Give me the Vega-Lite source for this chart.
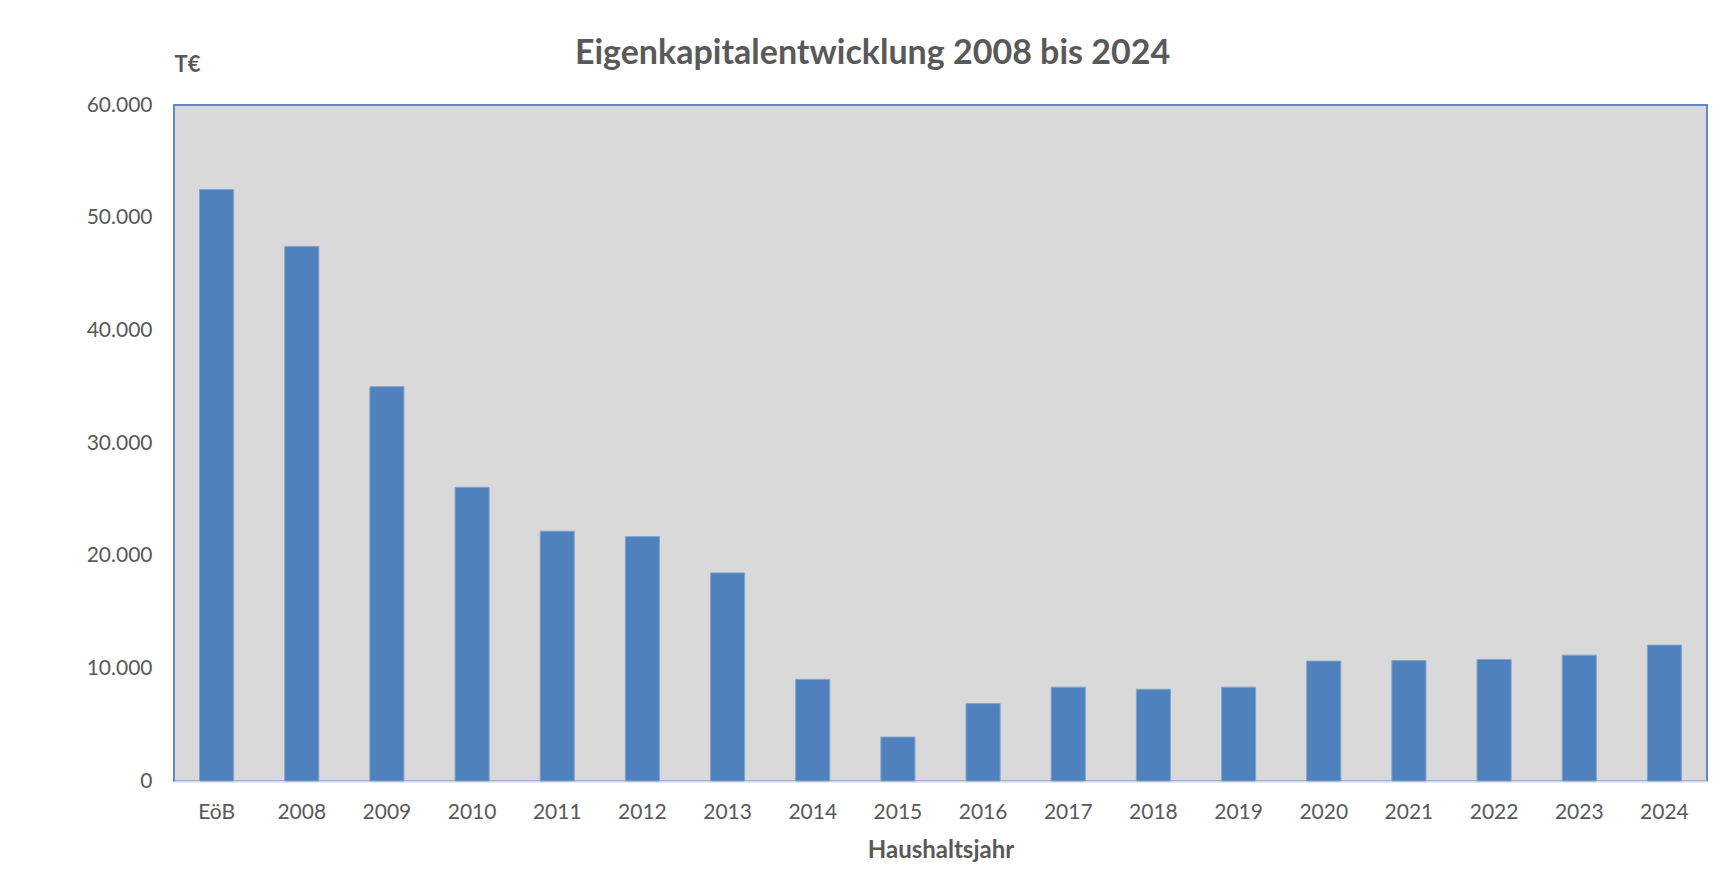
{
  "$schema": "https://vega.github.io/schema/vega-lite/v6.json",
  "autosize": {"type": "none"},
  "width": 1533,
  "height": 676,
  "padding": {"left": 174, "top": 105, "right": 12, "bottom": 112},
  "background": "white",
  "title": {
    "text": "Eigenkapitalentwicklung 2008 bis 2024",
    "anchor": "middle",
    "dx": -68,
    "offset": -52,
    "baseline": "bottom",
    "font": "Lato",
    "fontSize": 34,
    "fontWeight": "bold",
    "color": "#595959"
  },
  "data": {
    "values": [
      {"jahr": "EöB", "wert": 52500},
      {"jahr": "2008", "wert": 47450},
      {"jahr": "2009", "wert": 35000},
      {"jahr": "2010", "wert": 26070},
      {"jahr": "2011", "wert": 22170},
      {"jahr": "2012", "wert": 21690},
      {"jahr": "2013", "wert": 18470},
      {"jahr": "2014", "wert": 9020},
      {"jahr": "2015", "wert": 3900},
      {"jahr": "2016", "wert": 6870},
      {"jahr": "2017", "wert": 8330},
      {"jahr": "2018", "wert": 8140},
      {"jahr": "2019", "wert": 8330},
      {"jahr": "2020", "wert": 10640},
      {"jahr": "2021", "wert": 10690},
      {"jahr": "2022", "wert": 10780},
      {"jahr": "2023", "wert": 11170},
      {"jahr": "2024", "wert": 12060}
    ]
  },
  "mark": {"type": "bar", "color": "#4F81BD", "stroke": "#7FA3D1", "strokeWidth": 1},
  "encoding": {
    "x": {
      "field": "jahr",
      "type": "nominal",
      "sort": null,
      "scale": {"paddingInner": 0.6, "paddingOuter": 0.3},
      "axis": {
        "title": "Haushaltsjahr",
        "labelAngle": 0,
        "labelFont": "Lato",
        "labelFontSize": 21,
        "labelColor": "#595959",
        "labelPadding": 20,
        "ticks": false,
        "domain": true,
        "domainColor": "#D9D9D9",
        "domainWidth": 2,
        "titleFont": "Lato",
        "titleFontSize": 24,
        "titleFontWeight": "bold",
        "titleColor": "#595959",
        "titlePadding": 16
      }
    },
    "y": {
      "field": "wert",
      "type": "quantitative",
      "scale": {"domain": [0, 60000], "nice": false},
      "axis": {
        "title": "T€",
        "titleAngle": 0,
        "titleX": 0,
        "titleY": -34,
        "titleAlign": "left",
        "titleBaseline": "alphabetic",
        "titleFont": "Lato",
        "titleFontSize": 22,
        "titleFontWeight": "bold",
        "titleColor": "#595959",
        "values": [0, 10000, 20000, 30000, 40000, 50000, 60000],
        "labelExpr": "replace(format(datum.value, ','), ',', '.')",
        "labelFont": "Lato",
        "labelFontSize": 21,
        "labelColor": "#595959",
        "labelPadding": 22,
        "ticks": false,
        "domain": false,
        "grid": false
      }
    }
  },
  "config": {
    "view": {"fill": "#D9D9D9", "stroke": "#5B8BC9", "strokeWidth": 2}
  }
}
